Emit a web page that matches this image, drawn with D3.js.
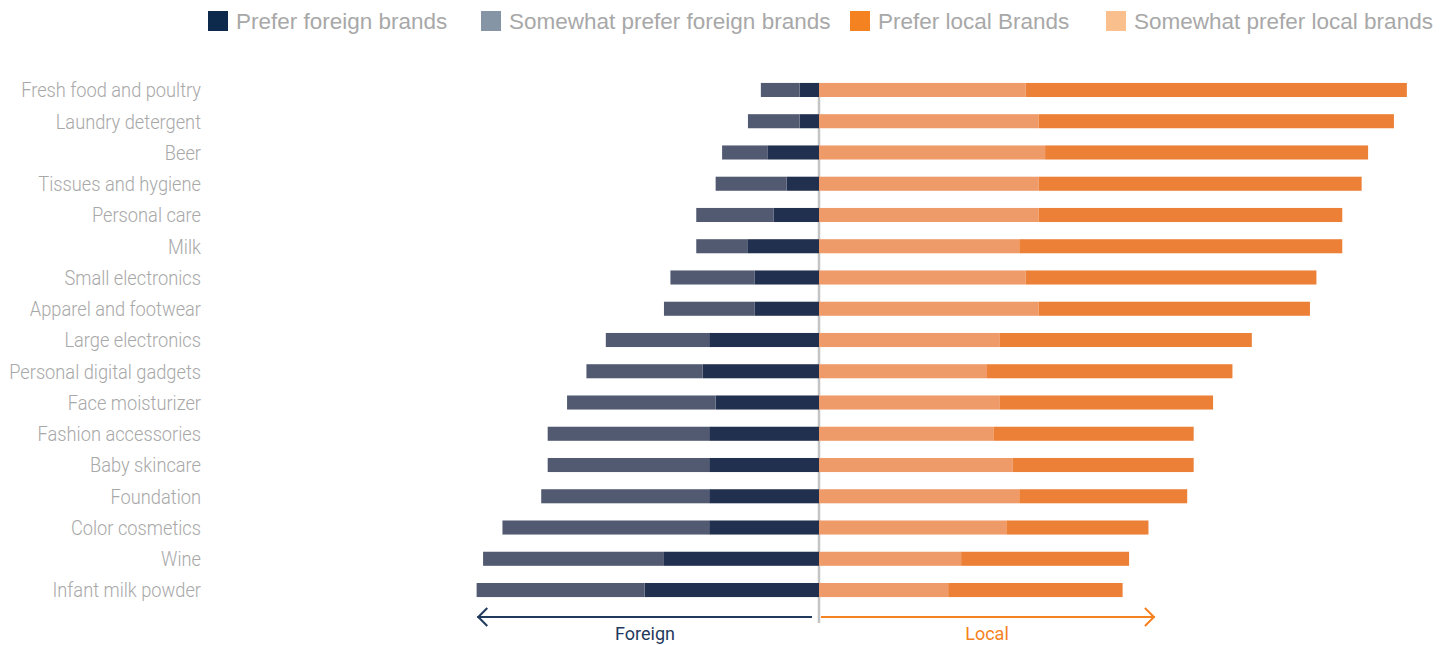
<!DOCTYPE html>
<html><head><meta charset="utf-8">
<script src="https://cdn.jsdelivr.net/npm/d3@7"></script>
<style>body{margin:0;background:#fff}svg{display:block}</style>
</head><body>
<svg id="c" width="1450" height="645"></svg>
<script>
const categories = ["Fresh food and poultry","Laundry detergent","Beer","Tissues and hygiene","Personal care","Milk","Small electronics","Apparel and footwear","Large electronics","Personal digital gadgets","Face moisturizer","Fashion accessories","Baby skincare","Foundation","Color cosmetics","Wine","Infant milk powder"];
const preferForeign = [3,3,8,5,7,11,10,10,17,18,16,17,17,17,17,24,27];
const somewhatForeign = [6,8,7,11,12,8,13,14,16,18,23,25,25,26,32,28,26];
const somewhatLocal = [32,34,35,34,34,31,32,34,28,26,28,27,30,31,29,22,20];
const preferLocal = [59,55,50,50,47,50,45,42,39,38,33,31,28,26,22,26,27];
const legendLabels = ["Prefer foreign brands","Somewhat prefer foreign brands","Prefer local Brands","Somewhat prefer local brands"];
const legendColors = ["#0d2a4d","#8695a5","#f58220","#f9c08e"];
const barColors = {pf:"#22304f", sf:"#525a72", sl:"#ef9a69", pl:"#ec8036"};

const svg = d3.select("#c");
const x = d3.scaleLinear().domain([-100,100]).range([819-646,819+646]);
const y = d3.scaleBand().domain(categories).range([74.5,605.5]).paddingInner(0.55).paddingOuter(0.27);
const labelFont = "Roboto,'Liberation Sans',Arial,sans-serif";

// center line
svg.append("line").attr("x1",x(0)).attr("x2",x(0)).attr("y1",y(categories[0])).attr("y2",623)
  .attr("stroke","#c4c4c4").attr("stroke-width",2.5);

const rows = categories.map((c,i)=>({c,pf:preferForeign[i],sf:somewhatForeign[i],sl:somewhatLocal[i],pl:preferLocal[i]}));
const g = svg.append("g");
rows.forEach(r=>{
  const segs = [
    {x0:-r.pf, x1:0, col:barColors.pf},
    {x0:-r.pf-r.sf, x1:-r.pf, col:barColors.sf},
    {x0:0, x1:r.sl, col:barColors.sl},
    {x0:r.sl, x1:r.sl+r.pl, col:barColors.pl}
  ];
  segs.forEach(s=>{
    g.append("rect").attr("x",x(s.x0)).attr("width",x(s.x1)-x(s.x0))
     .attr("y",y(r.c)).attr("height",y.bandwidth()).attr("fill",s.col);
  });
});
// labels, horizontally condensed to mimic the narrow light face
const labels = svg.append("g");
const lt = labels.selectAll("text").data(rows).join("text")
  .attr("text-anchor","end").attr("dy","0.35em")
  .attr("font-family",labelFont).attr("font-weight",300).attr("font-size",21)
  .attr("fill","#a8a8a8").text(d=>d.c);
const refW = lt.nodes()[0].getComputedTextLength();
const f = 180/refW;
lt.attr("transform",d=>`translate(201,${y(d.c)+y.bandwidth()/2}) scale(${f},1)`);

// legend
const legX = [208,481,850,1106];
legendLabels.forEach((l,i)=>{
  svg.append("rect").attr("x",legX[i]).attr("y",11).attr("width",20).attr("height",20).attr("fill",legendColors[i]);
  svg.append("text").attr("x",legX[i]+28).attr("y",21).attr("dy","0.35em")
    .attr("font-family","'Liberation Sans',Arial,sans-serif").attr("font-size",22.5)
    .attr("fill","#a8a8a8").text(l);
});

// arrows
const ay = 617;
svg.append("line").attr("x1",x(0)-7).attr("x2",x(-52.9)).attr("y1",ay).attr("y2",ay).attr("stroke","#1f3a5c").attr("stroke-width",2);
svg.append("path").attr("d",`M${x(-52.9)+10},${ay-9}L${x(-52.9)+1},${ay}L${x(-52.9)+10},${ay+9}`).attr("fill","none").attr("stroke","#1f3a5c").attr("stroke-width",2);
svg.append("line").attr("x1",x(0)+2).attr("x2",x(52)).attr("y1",ay).attr("y2",ay).attr("stroke","#f58220").attr("stroke-width",2);
svg.append("path").attr("d",`M${x(52)-10},${ay-9}L${x(52)-1},${ay}L${x(52)-10},${ay+9}`).attr("fill","none").attr("stroke","#f58220").attr("stroke-width",2);
svg.append("text").attr("x",645).attr("y",640).attr("text-anchor","middle").attr("font-family",labelFont).attr("font-size",18).attr("fill","#1f3a5c").text("Foreign");
svg.append("text").attr("x",987).attr("y",640).attr("text-anchor","middle").attr("font-family",labelFont).attr("font-size",18).attr("fill","#f58220").text("Local");
</script>
</body></html>
